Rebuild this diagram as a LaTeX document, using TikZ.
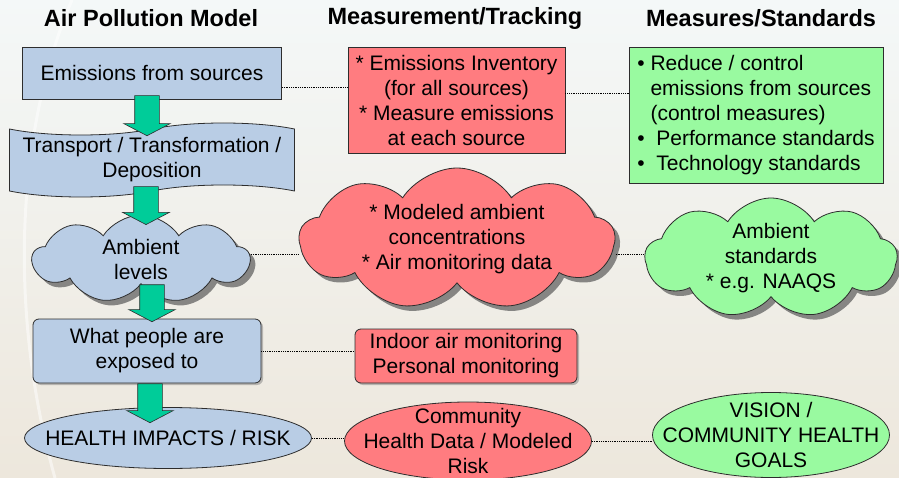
\documentclass[tikz,border=0pt]{standalone}
\usepackage{fontspec}
\setmainfont{Liberation Sans}
\usetikzlibrary{shapes.symbols,shapes.arrows,shapes.geometric,shadows}

\definecolor{modelblue}{RGB}{185,205,229}
\definecolor{trackred}{RGB}{255,124,128}
\definecolor{stdgreen}{RGB}{153,250,160}
\definecolor{flowteal}{RGB}{0,204,153}
\definecolor{edgegray}{RGB}{45,45,45}
\definecolor{bgtop}{RGB}{244,248,248}
\definecolor{bgbot}{RGB}{237,231,220}

\tikzset{
  base/.style={draw=edgegray, line width=0.8pt, inner sep=2pt, align=center,
    font=\fontsize{21}{25}\selectfont},
  plainbox/.style={base, rectangle},
  roundbox/.style={base, rectangle, rounded corners=6pt,
    drop shadow={shadow xshift=2pt, shadow yshift=-2pt, opacity=0.5}},
  puff/.style={base, cloud, cloud puffs=9, cloud puff arc=115, cloud ignores aspect, inner sep=-8pt,
    drop shadow={shadow xshift=5pt, shadow yshift=-5pt, fill=black!65, opacity=0.7}},
  oval/.style={base, ellipse, inner xsep=-40pt, inner ysep=-20pt},
  banner/.style={base, tape, tape bend top=in and out, tape bend bottom=in and out,
    tape bend height=12pt},
  flowarrow/.style={single arrow, shape border rotate=270, fill=flowteal,
    draw=edgegray, line width=0.6pt, inner sep=12pt,
    single arrow head extend=11pt, single arrow tip angle=125},
  link/.style={densely dotted, line width=0.8pt, black},
  heading/.style={font=\bfseries\fontsize{23.5}{28}\selectfont}
}

\begin{document}
\begin{tikzpicture}[x=1pt, y=-1pt]
\useasboundingbox (0,0) rectangle (899,478);
\shade[top color=bgtop, bottom color=bgbot] (0,0) rectangle (899,478);
\draw[white, line width=3pt, opacity=0.5] (72,0) .. controls (20,120) and (5,300) .. (55,478);

% column headings
\node[heading] (tmodel) at (151,18) {Air Pollution Model};
\node[heading] (ttrack) at (455,18) {Measurement/Tracking};
\node[heading] (tstd) at (761,18) {Measures/Standards};

% pollution model
\node[plainbox, fill=modelblue, minimum width=259pt, minimum height=52pt] (emis) at (152,73) {Emissions from sources};
\node[banner, fill=modelblue, minimum width=285pt, minimum height=74pt] (trans) at (152,160) {Transport / Transformation /\\Deposition};
\node[puff, fill=modelblue, minimum width=217pt, minimum height=88pt] (amb) at (141,259) {Ambient\\levels};
\node[roundbox, fill=modelblue, minimum width=228pt, minimum height=64pt] (expo) at (147,351) {What people are\\exposed to};
\node[oval, fill=modelblue, minimum width=287pt, minimum height=61pt] (health) at (168,438) {HEALTH IMPACTS / RISK};

% measurement / tracking
\node[plainbox, fill=trackred, minimum width=217pt, minimum height=106pt] (inv) at (456.5,100) {* Emissions Inventory\\(for all sources)\\* Measure emissions\\at each source};
\node[puff, fill=trackred, minimum width=315pt, minimum height=142pt] (model) at (457,239) {* Modeled ambient\\concentrations\\* Air monitoring data};
\node[roundbox, fill=trackred, minimum width=222pt, minimum height=54pt] (indoor) at (466,356) {Indoor air monitoring\\Personal monitoring};
\node[oval, fill=trackred, minimum width=247pt, minimum height=78pt] (comm) at (468,441) {Community\\Health Data / Modeled\\Risk};

% measures / standards
\node[plainbox, fill=stdgreen, minimum width=254pt, minimum height=136pt, align=left] (ctrl) at (756,115) {\textbullet\ Reduce / control\\\phantom{\textbullet\ }emissions from sources\\\phantom{\textbullet\ }(control measures)\\\textbullet\ \ Performance standards\\\textbullet\ \ Technology standards};
\node[puff, fill=stdgreen, minimum width=252pt, minimum height=120pt] (std) at (771,258) {Ambient\\standards\\* e.g. NAAQS};
\node[oval, fill=stdgreen, minimum width=237pt, minimum height=85pt] (vision) at (771,435) {VISION /\\COMMUNITY HEALTH\\GOALS};

% dotted links
\coordinate (e1) at ([yshift=-14pt]emis.east);
\draw[link] (e1) -- (e1 -| inv.west);
\coordinate (i1) at ([yshift=7pt]inv.east);
\draw[link] (i1) -- (i1 -| ctrl.west);
\coordinate (m1) at ([yshift=5pt]amb.east);
\draw[link] (m1) -- (m1 -| model.west);
\coordinate (m2) at (model.east |- m1);
\draw[link] (m2) -- (m2 -| std.west);
\draw[link] (expo.east) -- (expo.east -| indoor.west);
\draw[link] (health.east) -- (health.east -| comm.west);
\draw[link] (comm.east) -- (comm.east -| vision.west);

% flow arrows
\node[flowarrow, minimum height=40pt, anchor=tail] (a1) at ([xshift=-5pt,yshift=4pt]emis.south) {};
\node[flowarrow, minimum height=38pt, anchor=tail] (a2) at ([xshift=-6pt,yshift=5pt]trans.south) {};
\node[flowarrow, minimum height=37pt, anchor=tail] (a3) at ([xshift=11pt,yshift=0pt]amb.south) {};
\node[flowarrow, minimum height=39pt, anchor=tail] (a4) at ([xshift=3pt]expo.south) {};
\end{tikzpicture}
\end{document}
